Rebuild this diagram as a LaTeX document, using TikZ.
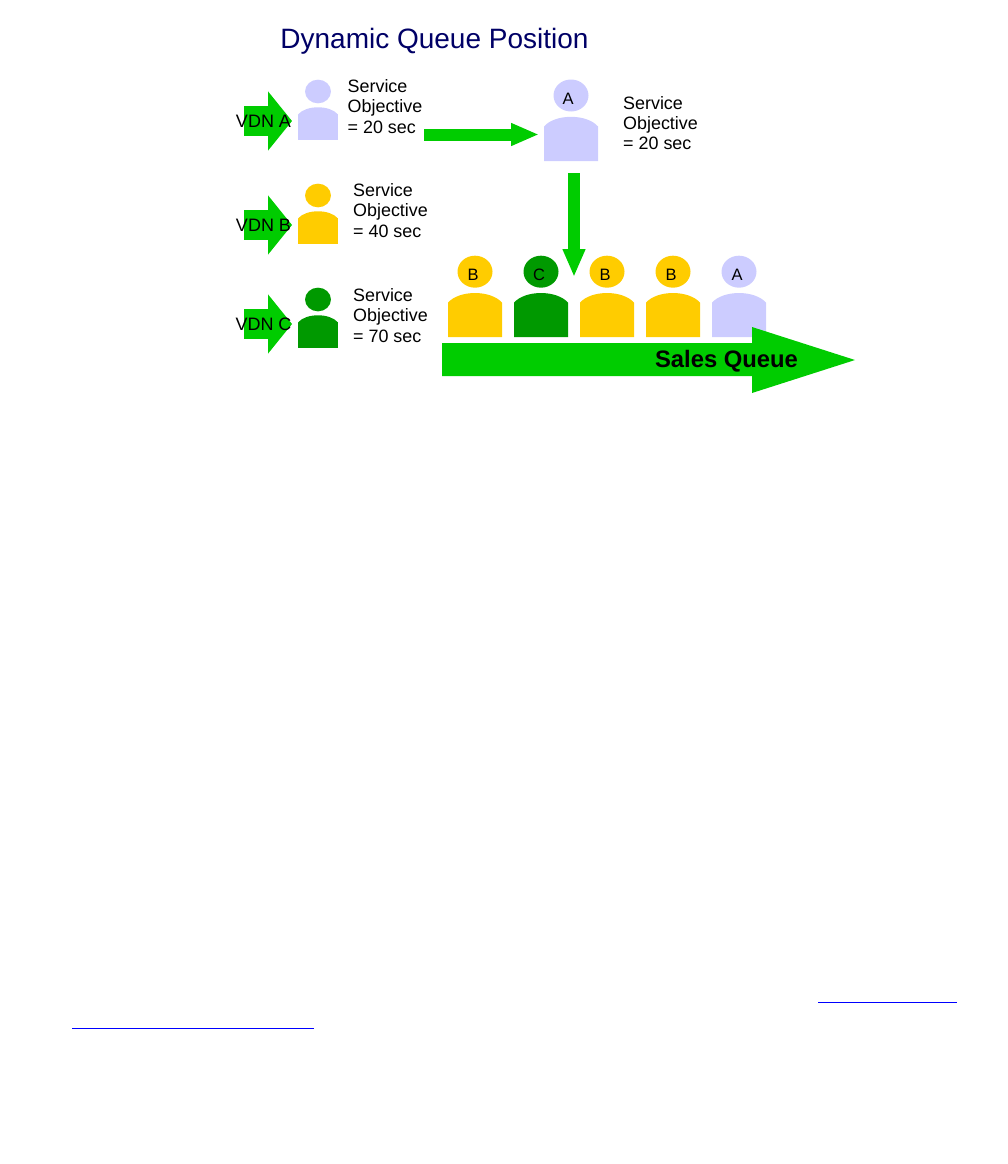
\documentclass[tikz,border=0pt]{standalone}
\usepackage{fontspec}
\setmainfont{Liberation Sans}
\usetikzlibrary{arrows.meta}

\definecolor{lavenderfill}{HTML}{CCCCFF}
\definecolor{yellowfill}{HTML}{FFCC00}
\definecolor{darkgreenfill}{HTML}{009900}
\definecolor{arrowgreen}{HTML}{00CC00}
\definecolor{titlenavy}{HTML}{000066}

\tikzset{
  person/.pic={
    \path[pic actions] (0,0) ellipse (17.5 and 16);
    \path[pic actions] (-27,31) .. controls (-16,18.1) and (16,18.1) .. (27,31) -- (27,65.5) -- (-27,65.5) -- cycle;
  },
  vdnarrow/.style={arrowgreen, line width=30pt, -{Triangle[length=24pt,width=58pt]}},
  movearrow/.style={arrowgreen, line width=12pt, -{Triangle[length=28pt,width=21pt]}},
  objective/.style={align=left, anchor=north west, inner sep=0pt, font=\fontsize{17.9}{20.3}\selectfont},
  letter/.style={inner sep=0pt, font=\fontsize{16.5}{16.5}\selectfont},
  vdnlabel/.style={inner sep=0pt, font=\fontsize{18}{18}\selectfont},
  linkline/.style={blue, line width=1.2pt}
}

\begin{document}
\begin{tikzpicture}[x=1pt, y=-1pt]
\useasboundingbox (0,0) rectangle (1008,1164);

% The title
\node[titlenavy, inner sep=0pt, font=\fontsize{28}{30}\selectfont] (title) at (434.5,41.5) {Dynamic Queue Position};

% The three VDN arrows
\foreach \vdn/\ypos in {A/121, B/225, C/324} {
  \coordinate (vdn\vdn start) at (244,\ypos);
  \coordinate (vdn\vdn end) at (292,\ypos);
  \draw[vdnarrow] (vdn\vdn start) -- (vdn\vdn end);
  \node[vdnlabel] (vdn\vdn) at (263.5,\ypos) {VDN \vdn};
}

% The callers at the left
\pic[fill=lavenderfill, scale=0.74] (callerA) at (318,91.5) {person};
\pic[fill=yellowfill, scale=0.74] (callerB) at (318,195.5) {person};
\pic[fill=darkgreenfill, scale=0.74] (callerC) at (318,299.5) {person};

% The objectives
\node[objective] (objA) at (347.5,79.5) {Service\\Objective\\= 20 sec};
\node[objective] (objB) at (353,183.5) {Service\\Objective\\= 40 sec};
\node[objective] (objC) at (353,288.5) {Service\\Objective\\= 70 sec};
\node[objective] (objnew) at (623,96) {Service\\Objective\\= 20 sec};

% The caller who moves
\pic[fill=lavenderfill] (newcaller) at (571,95.5) {person};
\node[letter] (newletter) at (568,98.5) {A};

% The moves
\coordinate (movestart) at (424,134.5);
\coordinate (moveend) at (539,134.5);
\draw[movearrow] (movestart) -- (moveend);
\coordinate (dropstart) at (574,173);
\coordinate (dropend) at (574,277);
\draw[movearrow] (dropstart) -- (dropend);

% The queue
\foreach \name/\xpos/\colr in {B/475/yellowfill, C/541/darkgreenfill, B/607/yellowfill, B/673/yellowfill, A/739/lavenderfill} {
  \pic[fill=\colr] at (\xpos,271.7) {person};
  \node[letter] at (\xpos-2,274.5) {\name};
}

% The queue arrow
\fill[arrowgreen] (442,343) -- (752,343) -- (752,327) -- (855,360) -- (752,393) -- (752,376) -- (442,376) -- cycle;
\node[inner sep=0pt, font=\fontsize{23.8}{24}\selectfont\bfseries] (queuelabel) at (726.5,361.5) {Sales Queue};

% The links
\coordinate (linkoneleft) at (818,1002.5);
\coordinate (linkoneright) at (957,1002.5);
\draw[linkline] (linkoneleft) -- (linkoneright);
\coordinate (linktwoleft) at (72,1028.5);
\coordinate (linktworight) at (314,1028.5);
\draw[linkline] (linktwoleft) -- (linktworight);

\end{tikzpicture}
\end{document}
